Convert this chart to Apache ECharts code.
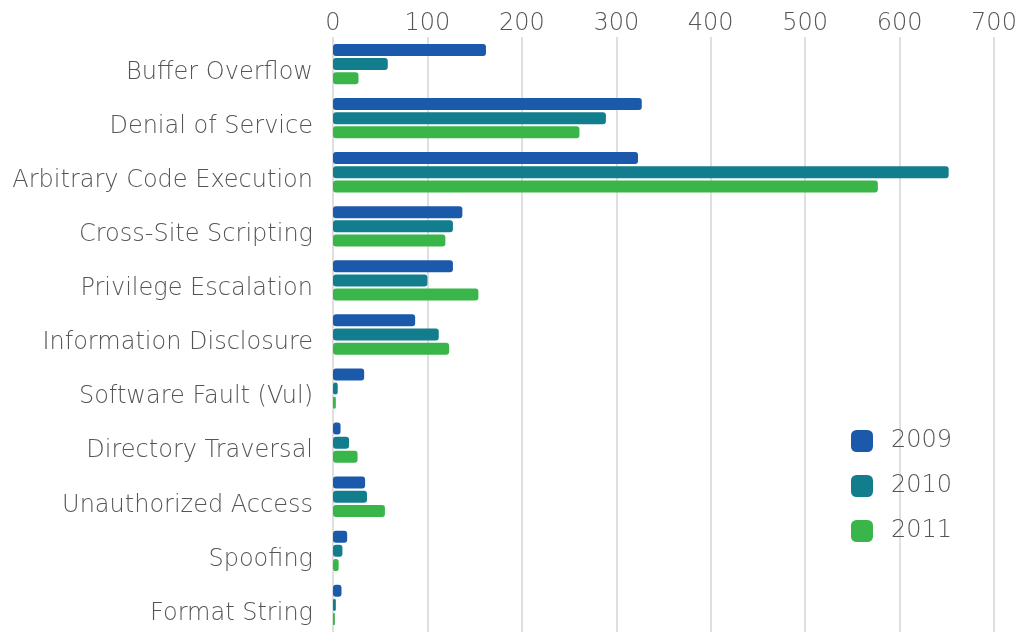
<!DOCTYPE html>
<html>
<head>
<meta charset="utf-8">
<script src="https://cdn.jsdelivr.net/npm/echarts@6/dist/echarts.min.js"></script>
<style>
  html, body { margin: 0; padding: 0; background: #fff; }
  #chartBox { width: 1021px; height: 643px; }
</style>
</head>
<body>
<div id="chartBox"></div>
<script>
var categories = [
  "Buffer Overflow",
  "Denial of Service",
  "Arbitrary Code Execution",
  "Cross-Site Scripting",
  "Privilege Escalation",
  "Information Disclosure",
  "Software Fault (Vul)",
  "Directory Traversal",
  "Unauthorized Access",
  "Spoofing",
  "Format String"
];
var years = ["2009", "2010", "2011"];
var values2009 = [162, 327, 323, 137, 127, 87, 33, 8, 34, 15, 9];
var values2010 = [58, 289, 652, 127, 100, 112, 5, 17, 36, 10, 3];
var values2011 = [27, 261, 577, 119, 154, 123, 3, 26, 55, 6, 2];
var colors = ["#1b5aab", "#127e8d", "#3ab54a"];

var myChart;

window.onload = function () {
  myChart = echarts.init(document.getElementById("chartBox"));
  setOptions();
};

function makeSeries(name, data, color) {
  return {
    name: name,
    type: "bar",
    data: data,
    barWidth: 12,
    barGap: "18%",
    itemStyle: { color: color, borderRadius: 3 }
  };
}

function setOptions() {
  var textFont = "DejaVu Sans";
  var option = {
    backgroundColor: "#fff",
    animation: false,
    color: colors,
    grid: { left: 333, right: 27, top: 37, bottom: 11 },
    legend: {
      data: years,
      orient: "vertical",
      left: 851,
      top: 429,
      padding: 0,
      itemWidth: 22,
      itemHeight: 22,
      itemGap: 21,
      icon: "roundRect",
      textStyle: { fontFamily: textFont, fontWeight: 200, fontSize: 24, color: "#555", padding: [0, 0, 0, 13] }
    },
    xAxis: {
      type: "value",
      position: "top",
      min: 0,
      max: 700,
      interval: 100,
      axisLine: { show: false },
      axisTick: { show: false },
      splitLine: { show: true, lineStyle: { color: "#d4d4d4", width: 1.5 } },
      axisLabel: { fontFamily: textFont, fontWeight: 200, fontSize: 24, color: "#555", margin: 1 }
    },
    yAxis: {
      type: "category",
      data: categories,
      inverse: true,
      axisLine: { show: false },
      axisTick: { show: false },
      axisLabel: {
        fontFamily: textFont,
        fontWeight: 200,
        fontSize: 24,
        color: "#555",
        margin: 20,
        verticalAlign: "top",
        lineHeight: 17
      }
    },
    series: [
      makeSeries(years[0], values2009, colors[0]),
      makeSeries(years[1], values2010, colors[1]),
      makeSeries(years[2], values2011, colors[2])
    ]
  };
  myChart.setOption(option);
}
</script>
</body>
</html>
